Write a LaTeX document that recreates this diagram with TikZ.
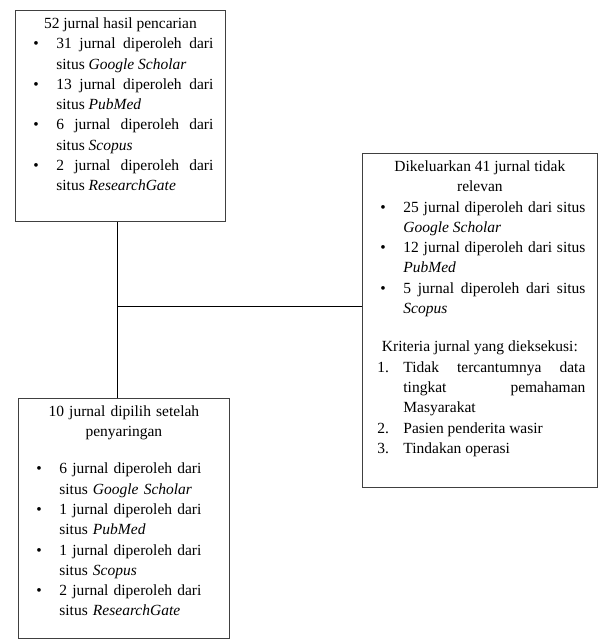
\documentclass[tikz,border=0pt]{standalone}
\usepackage{fontspec}
\setmainfont{Liberation Serif}
\usetikzlibrary{positioning}
\tolerance=9999
\hyphenpenalty=10000
\hbadness=10000
\newcommand{\butir}{\par\hangindent=29pt\hangafter=0\noindent\llap{\makebox[23pt][l]{\textbullet}}}
\newcommand{\nomor}[1]{\par\hangindent=29pt\hangafter=0\noindent\llap{\makebox[26pt][l]{#1}}}

\begin{document}
\begin{tikzpicture}[x=1pt, y=-1pt,
    kotak/.style={draw=black!75, line width=0.8pt, inner xsep=12pt, inner ysep=7pt,
      text height=11pt, font=\fontsize{15.5}{20.3}\selectfont},
    garis/.style={draw=black, line width=0.8pt}]
  \useasboundingbox (0,0) rectangle (598,640);

  \node(hasil) [kotak, align=justify, text width=186pt, text depth=186pt, anchor=north west] at (15,10) {%
    {\centering 52 jurnal hasil pencarian\par}
    \butir 31 jurnal diperoleh dari\linebreak situs \textit{Google Scholar}
    \butir 13 jurnal diperoleh dari\linebreak situs \textit{PubMed}
    \butir 6 jurnal diperoleh dari\linebreak situs \textit{Scopus}
    \butir 2 jurnal diperoleh dari\linebreak situs \textit{ResearchGate}\par};
  \node(saring) [kotak, align=left, text width=187pt, text depth=215pt,
    below=176pt of hasil.south west, anchor=north west, xshift=3pt] {%
    {\centering 10 jurnal dipilih setelah\\ penyaringan\par}
    \vspace{17pt}
    \butir 6 jurnal diperoleh dari\linebreak situs \textit{Google Scholar}
    \butir 1 jurnal diperoleh dari\linebreak situs \textit{PubMed}
    \butir 1 jurnal diperoleh dari\linebreak situs \textit{Scopus}
    \butir 2 jurnal diperoleh dari\linebreak situs \textit{ResearchGate}\par};
  \node(keluar) [kotak, align=justify, text width=211pt, text depth=309pt, anchor=north west] at (362,153) {%
    {\centering Dikeluarkan 41 jurnal tidak\\ relevan\par}
    \butir 25 jurnal diperoleh dari situs\linebreak \textit{Google Scholar}
    \butir 12 jurnal diperoleh dari situs\linebreak \textit{PubMed}
    \butir 5 jurnal diperoleh dari situs\linebreak \textit{Scopus}
    \par\vspace{18pt}
    {\centering Kriteria jurnal yang dieksekusi:\par}
    \nomor{1.}Tidak tercantumnya data\linebreak tingkat pemahaman\linebreak Masyarakat
    \nomor{2.}Pasien penderita wasir
    \nomor{3.}Tindakan operasi\par};

  \coordinate(cabang) at (117,306);
  \draw[garis] (hasil.south -| cabang) -- (saring.north -| cabang);
  \draw[garis] (cabang) -- (cabang -| keluar.west);
\end{tikzpicture}
\end{document}
